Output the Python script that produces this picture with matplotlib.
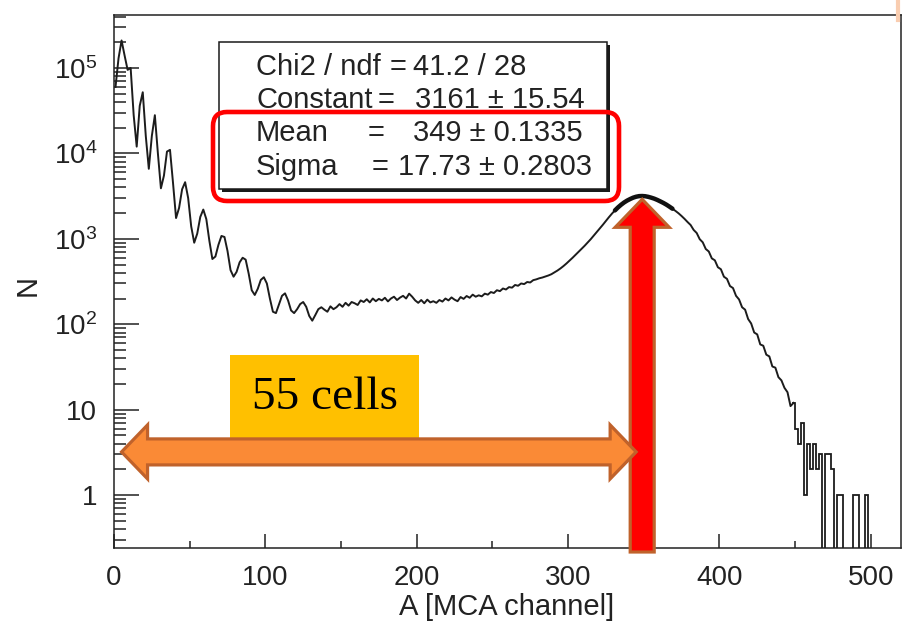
import numpy as np
import matplotlib
matplotlib.use("Agg")
import matplotlib.pyplot as plt
from matplotlib.patches import Polygon, FancyBboxPatch, Rectangle
from matplotlib.ticker import FixedLocator, LogLocator, NullFormatter, MultipleLocator
from matplotlib.transforms import IdentityTransform
from matplotlib.lines import Line2D

plt.rcParams['font.family'] = ['Liberation Sans', 'DejaVu Sans']
plt.rcParams['mathtext.fontset'] = 'custom'
plt.rcParams['mathtext.rm'] = 'Liberation Sans'
plt.rcParams['mathtext.it'] = 'Liberation Sans:italic'

# ---------------- data ----------------
bin_width = 2          # MCA channels per bin
first_channel = 0
counts = [
    # 0-18
    6.0e4, 1.3e5, 2.1e5, 1.4e5, 9.5e4, 1.0e5, 2.8e4, 1.2e4, 3.6e4, 5.2e4,
    # 20-38
    1.6e4, 6.6e3, 1.6e4, 2.8e4, 1.0e4, 3.9e3, 5.5e3, 1.05e4, 1.1e4, 4.5e3,
    # 40-58
    1.75e3, 2.3e3, 3.8e3, 4.6e3, 3.0e3, 1.4e3, 900, 1150, 1800, 2200,
    # 60-78
    1700, 950, 580, 620, 850, 1080, 1050, 720, 430, 360,
    # 80-98
    410, 530, 600, 570, 390, 250, 220, 260, 330, 355,
    # 100-118
    300, 200, 140, 135, 170, 215, 230, 190, 145, 135,
    # 120-138
    150, 172, 182, 160, 125, 110, 128, 150, 158, 148,
    # 140-158
    140, 162, 150, 158, 172, 160, 178, 165, 182, 176,
    # 160-178
    168, 190, 182, 196, 180, 200, 186, 198, 190, 204,
    # 180-198
    185, 200, 210, 192, 205, 215, 200, 228, 210, 190,
    # 200-218
    178, 192, 176, 194, 180, 186, 178, 192, 184, 200,
    # 220-238
    190, 206, 194, 186, 208, 198, 214, 204, 222, 210,
    # 240-258
    218, 212, 228, 222, 238, 232, 250, 244, 262, 255,
    # 260-278
    272, 268, 288, 282, 300, 295, 312, 308, 328, 335,
    # 280-298
    345, 352, 362, 372, 385, 405, 425, 450, 480, 515,
    # 300-318
    555, 600, 650, 705, 765, 830, 905, 990, 1090, 1200,
    # 320-338
    1320, 1460, 1620, 1790, 1970, 2150, 2330, 2500, 2660, 2800,
    # 340-358
    2920, 3030, 3110, 3160, 3170, 3150, 3100, 3030, 2950, 2850,
    # 360-378
    2740, 2630, 2510, 2380, 2250, 2120, 1990, 1850, 1710, 1570,
    # 380-398
    1450, 1270, 1170, 990, 910, 760, 710, 590, 560, 465,
    # 400-418
    440, 360, 340, 280, 265, 215, 195, 158, 148, 115,
    # 420-438
    102, 80, 76, 58, 56, 44, 42, 32, 31, 24,
    # 440-458
    22, 18, 16, 11, 12, 6, 4, 7, 1, 4,
    # 460-478
    2, 4, 2, 3, 0, 3, 3, 2, 0, 1,
    # 480-498
    1, 0, 0, 0, 1, 1, 0, 0, 1, 0,
]
fit_range = (330, 370)   # channels covered by the drawn gaussian fit
step_from = 448          # channel from which the sparse tail is drawn as steps

stat_labels = ["Chi2 / ndf", "Constant", "Mean", "Sigma"]
stat_values = ["41.2 / 28", "3161 \u00b1 15.54", "349 \u00b1 0.1335", "17.73 \u00b1 0.2803"]
fit_mean = 349.0
annotation_text = "55 cells"
arrow_span = (5, 345)    # channels spanned by the horizontal arrow
arrow_level = 3.2        # N level of the horizontal arrow
peak_tip = 2900          # N at tip of vertical arrow

xticks = [0, 100, 200, 300, 400, 500]
yticks = [1, 10, 1e2, 1e3, 1e4, 1e5]
yticklabels = ["1", "10", "$10^{2}$", "$10^{3}$", "$10^{4}$", "$10^{5}$"]
xlabel = "A [MCA channel]"
ylabel = "N"

# ---------------- figure ----------------
W, H = 913, 636
fig = plt.figure(figsize=(W / 100, H / 100), dpi=100)
L, R, T, B = 114, 901, 15, 548
ax = fig.add_axes([L / W, 1 - B / H, (R - L) / W, (B - T) / H])
ax.set_yscale('log')
ax.set_xlim(0, 520)
ax.set_ylim(0.24, 4.17e5)

counts_arr = np.array(counts, dtype=float)
edges = first_channel + bin_width * np.arange(len(counts_arr) + 1)
centers = 0.5 * (edges[:-1] + edges[1:])
plot_counts = np.where(counts_arr > 0, counts_arr, 1e-3)
line_col = '#1c1c1c'

dense = centers < step_from + bin_width
ax.plot(centers[dense], plot_counts[dense], color=line_col, lw=1.4, zorder=3,
        solid_joinstyle='round')
k0 = int(np.argmax(edges[:-1] >= step_from))
ax.stairs(plot_counts[k0:], edges[k0:], baseline=None, color=line_col, lw=1.3, zorder=3)
fit_sel = (centers >= fit_range[0]) & (centers <= fit_range[1])
ax.plot(centers[fit_sel], plot_counts[fit_sel], color='#111111', lw=3.2, zorder=3,
        solid_capstyle='round')

# axes styling
for s in ax.spines.values():
    s.set_linewidth(1.1)
    s.set_color('#222222')
ax.xaxis.set_major_locator(FixedLocator(xticks))
ax.xaxis.set_minor_locator(MultipleLocator(50))
ax.set_xticklabels([str(v) for v in xticks])
ax.yaxis.set_major_locator(FixedLocator(yticks))
ax.set_yticklabels(yticklabels)
ax.yaxis.set_minor_locator(LogLocator(base=10, subs=np.arange(2, 10), numticks=30))
ax.yaxis.set_minor_formatter(NullFormatter())
ax.tick_params(axis='both', which='both', direction='in', top=False, right=False,
               color='#222222', width=1.1, labelsize=20, labelcolor='#222222')
ax.tick_params(axis='y', which='major', length=18, pad=12)
ax.tick_params(axis='y', which='minor', length=8.6)
ax.tick_params(axis='x', which='major', length=10, pad=12)
ax.tick_params(axis='x', which='minor', length=5.4)

ID = IdentityTransform()
def P(x, y):
    return (x, H - y)

fig.text(*P(507, 607), xlabel, transform=ID, ha='center', va='center',
         fontsize=21, color='#222222')
fig.text(*P(28, 285), ylabel, transform=ID, ha='center', va='center',
         fontsize=21, color='#222222', rotation=90)

# stats box
fig.add_artist(Rectangle(P(222, 192), 388, 147, transform=ID, facecolor='#1a1a1a',
                         edgecolor='none', zorder=5))
fig.add_artist(Rectangle(P(219, 189), 388, 147, transform=ID, facecolor='white',
                         edgecolor='#1a1a1a', lw=1.1, zorder=6))
line_y = [67, 100, 133, 167]
eq_x = [390, 378, 368, 372]
val_x = [413, 415, 413, 398]
for lab, val, yy, ex, vx in zip(stat_labels, stat_values, line_y, eq_x, val_x):
    fig.text(*P(256, yy), lab, transform=ID, ha='left', va='center', fontsize=21,
             color='#222222', zorder=7)
    fig.text(*P(ex, yy), "=", transform=ID, ha='left', va='center', fontsize=21,
             color='#222222', zorder=7)
    fig.text(*P(vx, yy), val, transform=ID, ha='left', va='center', fontsize=21,
             color='#222222', zorder=7)

fig.add_artist(FancyBboxPatch(P(213, 201), 406, 89, transform=ID,
                              boxstyle='round,pad=0,rounding_size=14',
                              facecolor='none', edgecolor='#ff0000', lw=3.3, zorder=8))

# "55 cells" label
fig.add_artist(Rectangle(P(230, 438), 189, 83, transform=ID, facecolor='#ffc000',
                         edgecolor='none', zorder=6))
fig.text(*P(325, 398), annotation_text, transform=ID, ha='center', va='center',
         fontsize=34, family='Liberation Serif', color='black', zorder=7)

fig.canvas.draw()
tD = ax.transData
edge_col = '#c0622b'

# vertical red arrow at the fitted mean
vx, vy_top = tD.transform((fit_mean, peak_tip))
_, vy_bot = tD.transform((fit_mean, ax.get_ylim()[0]))
vy_bot -= 4
sw, hw, hl = 12, 27, 28
vpts = [(vx - sw, vy_bot), (vx + sw, vy_bot), (vx + sw, vy_top - hl), (vx + hw, vy_top - hl),
        (vx, vy_top), (vx - hw, vy_top - hl), (vx - sw, vy_top - hl)]
fig.add_artist(Polygon(vpts, closed=True, transform=ID, facecolor='#ff0000',
                       edgecolor=edge_col, lw=2.3, joinstyle='miter', zorder=9))

# horizontal double arrow
x0, yy = tD.transform((arrow_span[0], arrow_level))
x1, _ = tD.transform((arrow_span[1], arrow_level))
sw, hw, hl = 13, 27, 26
hpts = [(x0, yy), (x0 + hl, yy + hw), (x0 + hl, yy + sw), (x1 - hl, yy + sw),
        (x1 - hl, yy + hw), (x1, yy), (x1 - hl, yy - hw), (x1 - hl, yy - sw),
        (x0 + hl, yy - sw), (x0 + hl, yy - hw)]
fig.add_artist(Polygon(hpts, closed=True, transform=ID, facecolor='#fa8a36',
                       edgecolor=edge_col, lw=2.3, joinstyle='miter', zorder=10))

# small slide artefact at top right
fig.add_artist(Line2D([898, 898], [H - 2, H - 20], transform=ID, color='#f9cdb0', lw=3))

fig.savefig('out.png', dpi=100)
